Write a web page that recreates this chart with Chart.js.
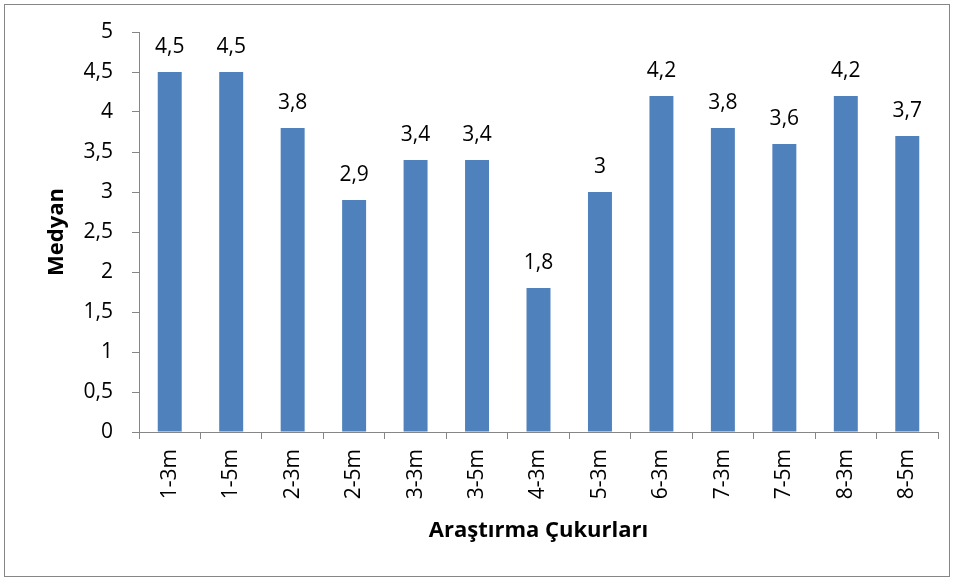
<!DOCTYPE html>
<html>
<head>
<meta charset="utf-8">
<script src="https://cdn.jsdelivr.net/npm/chart.js@4/dist/chart.umd.min.js"></script>
<style>
  body { margin: 0; background: #fff; }
  canvas { display: block; }
</style>
</head>
<body>
<canvas id="medyanChart" width="956" height="581"></canvas>
<script>
const cukurlar = ['1-3m', '1-5m', '2-3m', '2-5m', '3-3m', '3-5m', '4-3m', '5-3m', '6-3m', '7-3m', '7-5m', '8-3m', '8-5m'];
const medyan = [4.5, 4.5, 3.8, 2.9, 3.4, 3.4, 1.8, 3, 4.2, 3.8, 3.6, 4.2, 3.7];
const yTicks = [0, 0.5, 1, 1.5, 2, 2.5, 3, 3.5, 4, 4.5, 5];

const virgul = v => String(v).replace('.', ',');
const gri = '#868686';
const yazi = 'Open Sans';

// dış çerçeve
const cerceve = {
  id: 'cerceve',
  beforeDraw(chart) {
    const c = chart.ctx;
    c.save();
    c.fillStyle = '#fff';
    c.fillRect(0, 0, chart.width, chart.height);
    c.strokeStyle = gri;
    c.lineWidth = 1;
    c.strokeRect(4.5, 4.5, 945, 572);
    c.restore();
  }
};

// çubuk üstü değer etiketleri
const degerEtiketi = {
  id: 'degerEtiketi',
  afterDatasetsDraw(chart) {
    const c = chart.ctx;
    const meta = chart.getDatasetMeta(0);
    c.save();
    c.font = '21px "' + yazi + '"';
    c.fillStyle = '#000';
    c.textAlign = 'center';
    c.textBaseline = 'alphabetic';
    meta.data.forEach((bar, i) => {
      c.fillText(virgul(medyan[i]), bar.x, bar.y - 19);
    });
    c.restore();
  }
};

new Chart(document.getElementById('medyanChart'), {
  type: 'bar',
  data: {
    labels: cukurlar,
    datasets: [{
      data: medyan,
      backgroundColor: '#4F81BD',
      categoryPercentage: 1,
      barPercentage: 0.39
    }]
  },
  options: {
    responsive: false,
    animation: false,
    layout: { padding: { left: 0, right: 18, top: 32, bottom: 19 } },
    plugins: {
      legend: { display: false },
      tooltip: { enabled: false }
    },
    scales: {
      x: {
        grid: { drawOnChartArea: false, color: gri, tickLength: 7, offset: true },
        border: { color: gri },
        ticks: {
          color: '#000',
          font: { family: yazi, size: 21 },
          minRotation: 90,
          maxRotation: 90,
          padding: 10,
          autoSkip: false
        },
        title: {
          display: true,
          text: 'Araştırma Çukurları',
          color: '#000',
          font: { family: yazi, size: 22, weight: 'bold' },
          padding: { top: 0, bottom: 18 }
        },
        afterFit(scale) { scale.height = 130; }
      },
      y: {
        min: 0,
        max: 5,
        afterBuildTicks(scale) { scale.ticks = yTicks.map(v => ({ value: v })); },
        grid: { drawOnChartArea: false, color: gri, tickLength: 7 },
        border: { color: gri },
        ticks: {
          color: '#000',
          font: { family: yazi, size: 21 },
          padding: 19,
          callback: v => virgul(v)
        },
        title: {
          display: true,
          text: 'Medyan',
          color: '#000',
          font: { family: yazi, size: 22, weight: 'bold' },
          padding: { top: 44, bottom: 0 }
        },
        afterFit(scale) { scale.width = 139; }
      }
    }
  },
  plugins: [cerceve, degerEtiketi]
});
</script>
</body>
</html>
